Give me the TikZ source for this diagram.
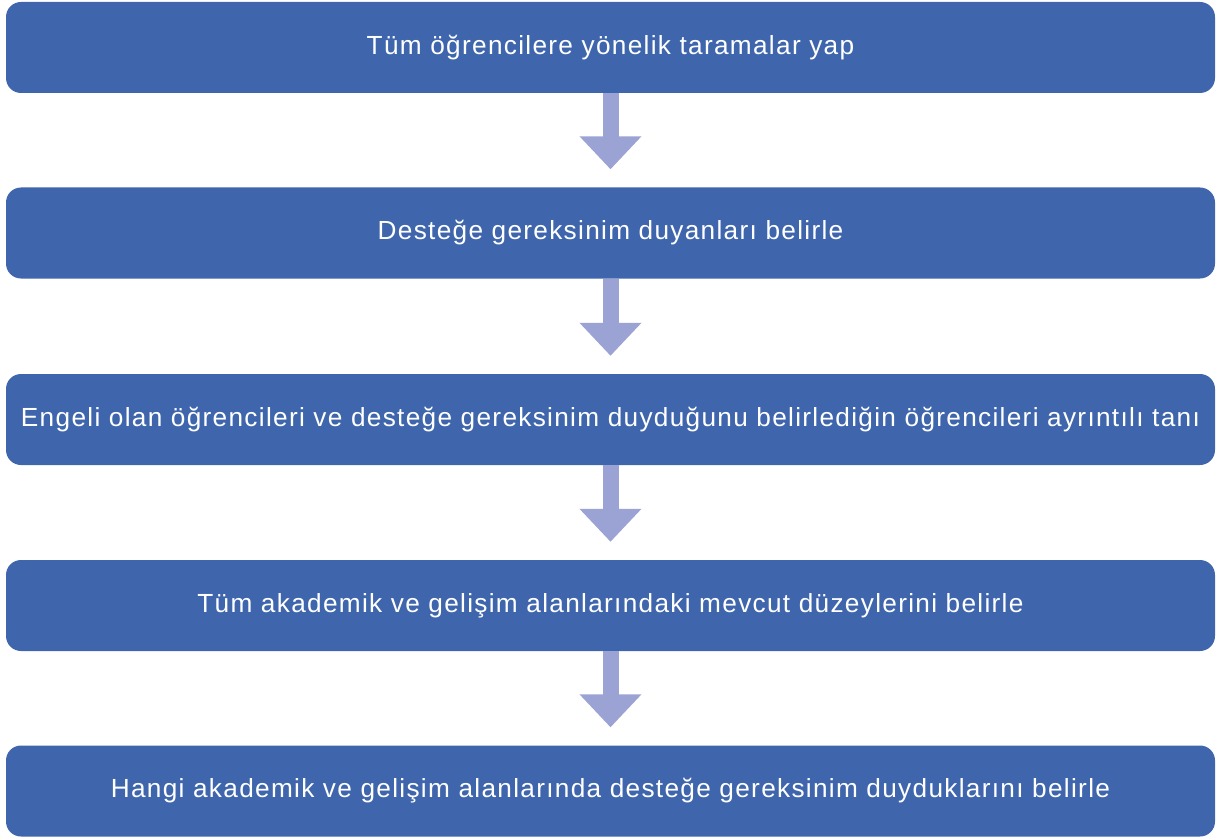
\documentclass[tikz,border=0pt]{standalone}
\usepackage{fontspec}
\setmainfont{Liberation Sans}[LetterSpace=5]
\usetikzlibrary{arrows.meta}
\definecolor{boxblue}{HTML}{3F66AC}
\definecolor{arrowblue}{HTML}{9BA3D4}
\begin{document}
\begin{tikzpicture}[x=1pt,y=-1pt]
\useasboundingbox (0,0) rectangle (1220,837);

\begin{scope}[every node/.style={rectangle, rounded corners=15pt, fill=boxblue, text=white,
  minimum width=1209pt, minimum height=91pt, inner sep=0pt,
  font=\fontsize{26.2}{31}\selectfont}]
\node(tara) at(610.5,47.5) {Tüm öğrencilere yönelik taramalar yap};
\node(belirle) at(610.5,233) {Desteğe gereksinim duyanları belirle};
\node(tani) at(610.5,419.5) {Engeli olan öğrencileri ve desteğe gereksinim duyduğunu belirlediğin öğrencileri ayrıntılı tanı};
\node(duzey) at(610.5,605.5) {Tüm akademik ve gelişim alanlarındaki mevcut düzeylerini belirle};
\node(alan) at(610.5,791) {Hangi akademik ve gelişim alanlarında desteğe gereksinim duyduklarını belirle};
\end{scope}

\begin{scope}[every path/.style={draw=arrowblue, line width=16pt, shorten >=18pt,
  -{Triangle[width=60pt,length=33pt,fill=arrowblue]}}]
\draw (tara) -- (belirle);
\draw (belirle) -- (tani);
\draw (tani) -- (duzey);
\draw (duzey) -- (alan);
\end{scope}

\end{tikzpicture}
\end{document}
